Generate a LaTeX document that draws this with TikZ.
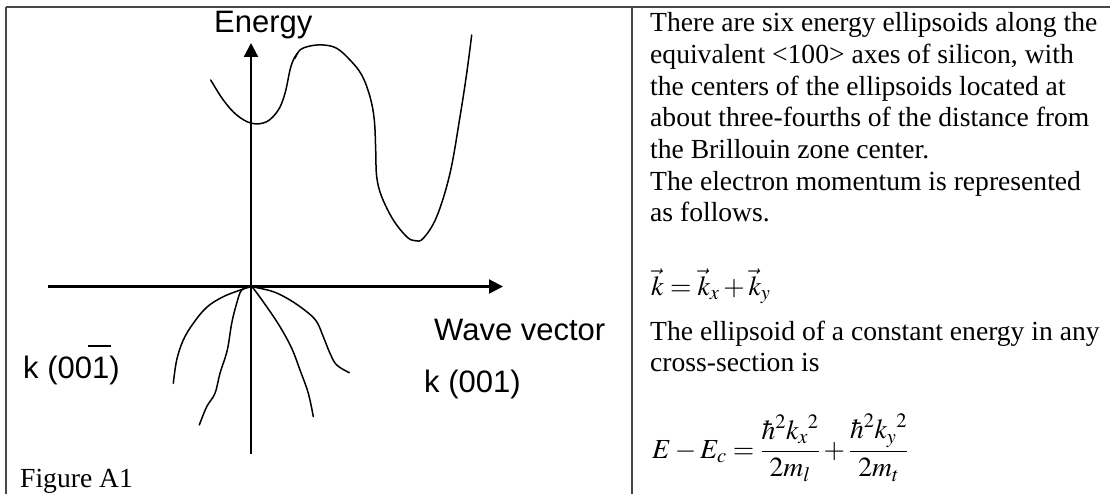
\documentclass[tikz,border=0pt]{standalone}
\usepackage{mathptmx}
\usepackage[no-math]{fontspec}
\setmainfont{Liberation Serif}
\newfontfamily\arialfont{Liberation Sans}
\usetikzlibrary{arrows.meta}
\tikzset{
  frameline/.style={draw=black!72, line width=1.6pt},
  axisline/.style={line width=2.2pt, -{Triangle[length=14pt,width=14pt]}},
  bandcurve/.style={line width=1.5pt, line cap=round, line join=round},
  sanslabel/.style={font=\arialfont\fontsize{31}{36}\selectfont, inner sep=0pt, anchor=base west},
  seriftext/.style={font=\fontsize{27.6}{31.7}\selectfont, inner sep=0pt, anchor=base west}
}
\begin{document}
\begin{tikzpicture}[x=1pt,y=-1pt]
\useasboundingbox (0,0) rectangle (1110,494);
% frame
\coordinate (tl) at (6,7);
\coordinate (tr) at (1110,7);
\coordinate (bl) at (6,494);
\coordinate (dt) at (632,7);
\coordinate (db) at (632,494);
\draw[frameline] (tl) -- (tr);
\draw[frameline] (tl) -- (bl);
\draw[frameline] (dt) -- (db);
% axes
\coordinate (vb) at (251,454);
\coordinate (vt) at (251,43);
\coordinate (hl) at (48,286.5);
\coordinate (hr) at (503,286.5);
\draw[axisline] (vb) -- (vt);
\draw[axisline] (hl) -- (hr);
% conduction band curves
\draw[bandcurve] plot[smooth, tension=0.6] coordinates {(210.7,80) (223.3,100) (236.7,115) (251.7,123.3) (266.7,121.7) (278.3,110) (285,93.3) (290,70) (293.3,60) (297.3,53.3)};
\draw[bandcurve] plot[smooth, tension=0.6] coordinates {(295,58.3) (300,50) (310,46) (323.3,45) (336.7,48.3) (350,60) (361.7,75) (370,96.7) (374.3,120) (375.7,150) (376.7,176.7) (381.7,196.7) (393.3,220) (406.7,236.7) (415,240.7) (423.3,238.3) (436.7,216.7) (450,173.3) (460,116.7) (466.7,73.3) (471.7,35)};
% valence band curves
\draw[bandcurve] plot[smooth, tension=0.6] coordinates {(251,286.7) (243.3,289) (223.3,296.7) (206.7,307.3) (193.3,323.3) (183.3,340) (176.7,360) (173.3,383.3)};
\draw[bandcurve] plot[smooth, tension=0.6] coordinates {(251,286.7) (241.7,290) (236.7,303.3) (231.7,323.3) (227.3,350) (220,373.3) (215,393.3) (206.7,406.7) (199.3,425)};
\draw[bandcurve] plot[smooth, tension=0.6] coordinates {(251,286.7) (253.3,288.3) (266.7,306.7) (280,326.7) (291.7,348.3) (300,370) (308.3,393.3) (313.3,416.7)};
\draw[bandcurve] plot[smooth, tension=0.6] coordinates {(251,286.7) (255,287.3) (273.3,291.7) (290,300) (306.7,311.7) (316.7,321.7) (323.3,336.7) (330,353.3) (336.7,365) (349.3,372.7)};
% labels on the figure
\node[sanslabel] (energy) at (214,33) {Energy};
\node[sanslabel] (wave) at (434,340) {Wave vector};
\node[sanslabel] (kpos) at (424,392) {k (001)};
\node[sanslabel] (kneg) at (23,378) {k (00\makebox[0pt][l]{\hspace{-0.12em}\raisebox{1.0em}{\rule{0.72em}{0.05em}}}1)};
\node[seriftext] (fig) at (20,487) {Figure A1};
% right column text
\node[seriftext] (t1) at (650,32) {There are six energy ellipsoids along the};
\node[seriftext] (t2) at (650,63.7) {equivalent <100> axes of silicon, with};
\node[seriftext] (t3) at (650,95.4) {the centers of the ellipsoids located at};
\node[seriftext] (t4) at (650,127) {about three-fourths of the distance from};
\node[seriftext] (t5) at (650,158.8) {the Brillouin zone center.};
\node[seriftext] (t6) at (650,190.5) {The electron momentum is represented};
\node[seriftext] (t7) at (650,222) {as follows.};
\node[seriftext] (keq) at (651,295) {$\vec{k} = \vec{k}_x + \vec{k}_y$};
\node[seriftext] (t8) at (650,340) {The ellipsoid of a constant energy in any};
\node[seriftext] (t9) at (650,371) {cross-section is};
\node[seriftext] (eeq) at (652,458) {$\displaystyle E - E_c = \frac{\hbar^2 {k_x}^2}{2m_l} + \frac{\hbar^2 {k_y}^2}{2m_t}$};
\end{tikzpicture}
\end{document}
